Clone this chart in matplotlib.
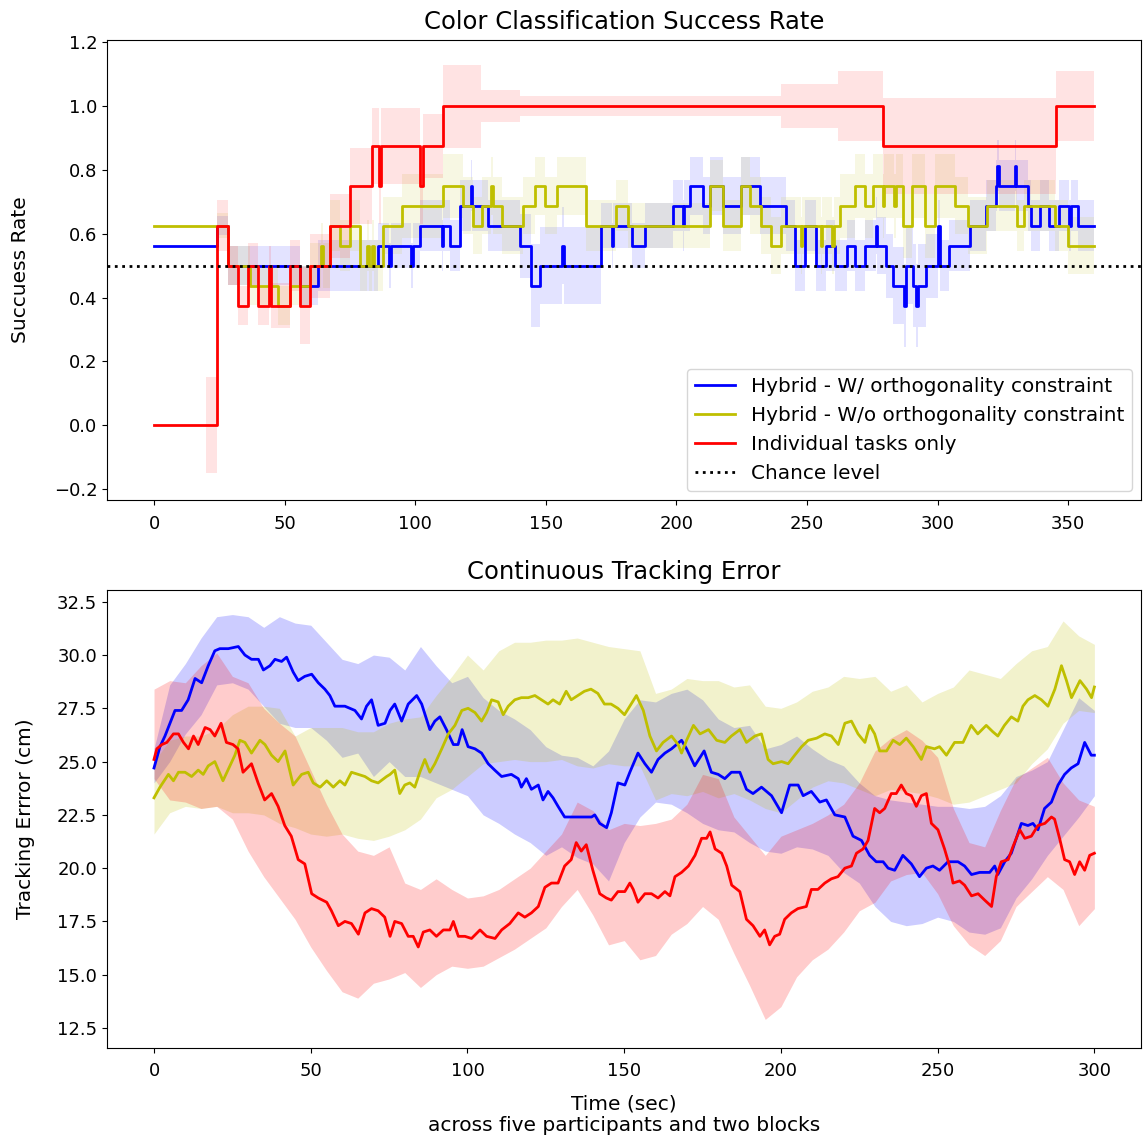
import numpy as np
import matplotlib
matplotlib.use("Agg")
import matplotlib.pyplot as plt

# ---------------- Top panel: Color classification success rate (step series) ----------------
red_t = [0, 20.0, 24.2, 28.2, 32.0, 35.8, 39.7, 44.0, 44.8, 52.0, 55.9, 59.7, 67.3, 75.0, 83.3,
         86.0, 87.0, 101.8, 102.8, 110.6, 125.0, 140.0, 240.0, 262.0, 279.0, 345.3, 360]
red_v = [0, 0, 0.625, 0.5, 0.375, 0.5, 0.375, 0.5, 0.375, 0.5, 0.375, 0.5, 0.625, 0.75, 0.875,
         0.75, 0.875, 0.75, 0.875, 1.0, 1.0, 1.0, 1.0, 1.0, 0.875, 1.0, 1.0]
red_hw = [0, 0.15, 0.08, 0.06, 0.06, 0.07, 0.06, 0.06, 0.07, 0.08, 0.12, 0.1, 0.1, 0.12, 0.12,
          0.12, 0.12, 0.12, 0.1, 0.13, 0.05, 0.03, 0.07, 0.11, 0.15, 0.11, 0.11]

blue_t = [0, 24.2, 28.2, 55.9, 62.9, 85.8, 90.0, 90.7, 98.3, 99.0, 101.8, 110.1, 110.8, 113.3,
          117.1, 121.3, 121.9, 128.0, 140.1, 144.5, 147.7, 156.2, 156.8, 171.3, 175.2, 175.8,
          182.8, 187.9, 198.7, 202.4, 203.0, 205.1, 210.2, 212.8, 217.9, 224.9, 231.9, 242.1,
          245.3, 249.1, 253.6, 257.4, 260.6, 265.2, 268.3, 272.2, 276.3, 276.9, 280.4, 283.0,
          287.0, 288.0, 290.6, 291.6, 292.4, 295.6, 300.2, 300.8, 304.5, 312.2, 318.5, 322.4,
          322.9, 323.5, 329.5, 330.1, 334.5, 335.8, 339.0, 342.8, 346.6, 350.4, 351.0, 353.6, 360]
blue_v = [0.5625, 0.625, 0.5, 0.4375, 0.5, 0.5625, 0.5, 0.5625, 0.5, 0.5625, 0.625, 0.5625, 0.625,
          0.5625, 0.6875, 0.75, 0.6875, 0.625, 0.5625, 0.4375, 0.5, 0.5625, 0.5, 0.625, 0.5625,
          0.625, 0.5625, 0.625, 0.6875, 0.625, 0.6875, 0.75, 0.6875, 0.75, 0.6875, 0.75, 0.6875,
          0.625, 0.5, 0.625, 0.5, 0.5625, 0.5, 0.5625, 0.5, 0.5625, 0.625, 0.5625, 0.5, 0.4375,
          0.375, 0.5, 0.4375, 0.375, 0.4375, 0.5, 0.625, 0.5, 0.5625, 0.625, 0.6875, 0.75,
          0.8125, 0.75, 0.8125, 0.75, 0.6875, 0.625, 0.6875, 0.625, 0.6875, 0.625, 0.6875, 0.625, 0.625]
blue_hw = [0, 0.03, 0.06, 0.06, 0.08, 0.07, 0.07, 0.07, 0.07, 0.07, 0.08, 0.08, 0.08, 0.08,
           0.08, 0.08, 0.08, 0.08, 0.1, 0.13, 0.12, 0.12, 0.12, 0.07, 0.07, 0.07,
           0.07, 0.07, 0.08, 0.08, 0.08, 0.09, 0.09, 0.09, 0.09, 0.09, 0.09, 0.08,
           0.08, 0.08, 0.08, 0.08, 0.08, 0.08, 0.08, 0.08, 0.09, 0.09, 0.1, 0.12,
           0.13, 0.12, 0.13, 0.13, 0.13, 0.1, 0.08, 0.08, 0.08, 0.08, 0.08, 0.08,
           0.08, 0.08, 0.08, 0.08, 0.08, 0.08, 0.08, 0.08, 0.08, 0.08, 0.08, 0.08, 0.08]

yel_t = [0, 24.2, 28.2, 36.7, 47.6, 52.0, 59.7, 64.1, 64.8, 67.3, 71.2, 75.0, 78.8, 81.7, 82.3,
         83.6, 84.2, 87.7, 94.8, 110.7, 118.3, 122.2, 125.4, 129.2, 129.8, 133.1, 141.3, 145.8,
         149.6, 154.1, 165.5, 177.0, 181.5, 212.7, 217.8, 224.8, 228.0, 232.5, 236.3, 240.2,
         247.5, 248.1, 255.2, 255.8, 259.6, 260.4, 262.5, 268.3, 272.2, 275.3, 278.9, 279.5,
         283.3, 283.9, 286.8, 290.0, 295.2, 299.0, 306.7, 311.8, 318.8, 330.3, 332.9, 345.0, 350.0, 360]
yel_v = [0.625, 0.625, 0.5, 0.4375, 0.375, 0.4375, 0.5, 0.5625, 0.5, 0.625, 0.5625, 0.625, 0.5,
         0.5625, 0.5, 0.5625, 0.5, 0.625, 0.6875, 0.75, 0.6875, 0.625, 0.6875, 0.75, 0.6875,
         0.625, 0.6875, 0.75, 0.6875, 0.75, 0.625, 0.6875, 0.625, 0.75, 0.625, 0.75, 0.6875,
         0.625, 0.5625, 0.625, 0.5625, 0.625, 0.5625, 0.625, 0.5625, 0.625, 0.6875, 0.75,
         0.6875, 0.75, 0.6875, 0.75, 0.6875, 0.75, 0.625, 0.75, 0.625, 0.75, 0.6875, 0.625,
         0.6875, 0.625, 0.6875, 0.625, 0.5625, 0.5625]
yel_hw = [0, 0.04, 0.06, 0.06, 0.06, 0.06, 0.07, 0.07, 0.07, 0.08, 0.08, 0.08, 0.08, 0.08, 0.08,
          0.08, 0.08, 0.09, 0.1, 0.1, 0.09, 0.09, 0.09, 0.09, 0.09, 0.09, 0.09, 0.09,
          0.09, 0.09, 0.08, 0.08, 0.07, 0.08, 0.08, 0.09, 0.09, 0.09, 0.09, 0.09,
          0.09, 0.09, 0.09, 0.09, 0.09, 0.09, 0.1, 0.1, 0.1, 0.1, 0.1, 0.1,
          0.1, 0.1, 0.1, 0.1, 0.1, 0.1, 0.09, 0.09, 0.08, 0.08, 0.08, 0.08, 0.09, 0.09]

chance_level = 0.5

# ---------------- Bottom panel: Continuous tracking error ----------------
blue_bt = [0, 1.9, 3.5, 5.1, 6.7, 8.8, 10.9, 13.1, 15.2, 17.3, 19.4, 21.0, 23.7, 26.9, 29.0, 31.1,
           33.3, 34.9, 37.0, 38.6, 40.7, 42.3, 44.4, 46.0, 48.1, 50.3, 52.4, 54.5, 56.1, 57.7, 60.9,
           64.1, 66.2, 67.8, 69.4, 71.5, 73.7, 75.3, 76.8, 79.0, 81.1, 83.8, 85.4, 88.0, 89.6, 91.2,
           93.3, 95.5, 97.0, 98.3, 100.2, 102.4, 104.5, 106.6, 108.7, 110.9, 114.0, 116.2, 117.2,
           118.8, 120.4, 122.6, 124.1, 125.7, 127.3, 128.9, 131.0, 135.2, 137.5, 139.6, 140.6, 142.2,
           144.4, 145.9, 148.0, 150.2, 151.8, 154.4, 156.6, 158.7, 160.8, 163.0, 165.1, 168.3, 169.9,
           172.5, 175.5, 177.8, 180.0, 182.1, 184.2, 186.9, 189.0, 191.1, 193.8, 197.0, 200.2, 202.8,
           205.5, 207.1, 209.7, 212.4, 214.5, 217.2, 220.4, 223.0, 225.7, 228.3, 230.4, 232.6, 234.2,
           236.3, 238.9, 241.6, 244.2, 246.4, 248.5, 250.6, 253.3, 256.5, 258.6, 260.8, 263.4, 266.6,
           268.2, 269.2, 271.4, 273.5, 275.1, 276.7, 278.8, 280.4, 282.0, 284.1, 286.3, 288.4, 290.5,
           292.6, 294.8, 296.9, 299.0, 300.0]
blue_bv = [24.7, 25.7, 26.2, 26.8, 27.4, 27.4, 27.9, 28.9, 28.7, 29.5, 30.2, 30.3, 30.3, 30.4, 30.0, 29.8,
           29.8, 29.3, 29.5, 29.8, 29.7, 29.9, 29.2, 28.8, 29.0, 29.1, 28.7, 28.4, 28.1, 27.6, 27.6,
           27.4, 27.0, 27.6, 27.9, 26.7, 26.8, 27.4, 27.7, 26.9, 27.7, 28.1, 27.7, 26.5, 26.9, 27.1,
           26.5, 25.8, 25.8, 26.5, 25.7, 25.6, 25.4, 24.9, 24.6, 24.3, 24.4, 24.2, 23.8,
           24.2, 23.7, 23.9, 23.2, 23.6, 23.3, 22.9, 22.4, 22.4, 22.4, 22.4, 22.5, 22.1,
           21.9, 22.6, 24.0, 23.9, 24.5, 25.4, 24.9, 24.5, 25.1, 25.4, 25.6, 26.0, 25.6,
           24.8, 25.5, 24.5, 24.4, 24.2, 24.5, 24.5, 23.7, 23.5, 23.8, 23.4, 22.6, 23.9,
           23.9, 23.4, 23.6, 23.1, 23.2, 22.5, 22.4, 21.5, 21.3, 20.6, 20.3, 20.3, 20.0,
           19.9, 20.6, 20.2, 19.6, 20.0, 20.1, 19.9, 20.3, 20.3, 20.1, 19.7, 19.8, 19.8,
           20.1, 19.7, 20.3, 20.7, 21.4, 22.1, 22.0, 22.1, 21.8, 22.8, 23.1, 23.9, 24.4,
           24.7, 24.9, 25.9, 25.3, 25.3]

yel_bt = [0, 1.9, 4.6, 6.2, 7.8, 9.9, 12.0, 14.1, 15.7, 17.3, 19.4, 22.0, 24.2, 25.8, 27.4, 29.0,
          31.1, 33.8, 35.4, 37.5, 39.6, 41.8, 44.4, 47.1, 49.2, 50.8, 53.0, 55.1, 57.2, 59.3, 60.9,
          63.0, 65.2, 67.3, 69.4, 71.5, 74.2, 75.3, 76.8, 78.4, 80.0, 81.6, 83.2, 84.8, 86.4, 88.0,
          89.6, 91.8, 93.9, 96.0, 98.2, 100.2, 102.4, 104.5, 106.1, 107.7, 109.8, 111.4, 113.0,
          115.1, 117.2, 119.4, 121.5, 123.6, 125.7, 127.3, 129.4, 131.5, 133.1, 135.2, 137.3,
          139.4, 141.6, 143.7, 145.8, 148.0, 150.1, 151.8, 153.9, 156.1, 158.2, 160.3, 162.4,
          165.1, 167.2, 168.3, 169.9, 172.1, 174.2, 176.9, 179.5, 182.1, 184.2, 186.9, 189.0,
          191.7, 193.8, 195.9, 197.5, 200.2, 202.3, 204.4, 206.6, 208.7, 211.4, 214.0, 216.1,
          218.3, 220.4, 222.5, 224.6, 226.8, 228.3, 229.9, 231.5, 233.7, 235.8, 237.9, 240.0,
          242.2, 244.8, 246.4, 249.0, 250.6, 252.8, 255.4, 258.1, 260.7, 262.8, 265.5, 267.6,
          269.2, 271.3, 273.5, 275.6, 277.2, 278.8, 281.0, 283.1, 285.2, 287.4, 289.5, 291.1,
          292.7, 295.4, 297.5, 299.1, 300.0]
yel_bv = [23.3, 23.8, 24.4, 24.1, 24.5, 24.5, 24.3, 24.6, 24.4, 24.8, 25.0, 24.1, 24.8, 25.3, 26.0, 25.9,
          25.4, 26.0, 25.8, 25.3, 25.0, 25.5, 23.9, 24.4, 24.5, 24.0, 23.8, 24.1, 23.8, 24.1, 23.9,
          24.5, 24.4, 24.3, 24.1, 24.0, 24.3, 24.4, 24.6, 23.5, 23.9, 24.0, 23.8, 24.5, 25.1, 24.5,
          24.9, 25.6, 26.3, 26.7, 27.4, 27.5, 27.3, 26.9, 27.3, 27.9, 27.8, 27.2, 27.6,
          27.9, 28.0, 28.0, 28.1, 27.9, 27.7, 27.9, 27.7, 28.3, 27.9, 28.1, 28.3,
          28.4, 28.2, 27.7, 27.7, 27.5, 27.2, 27.6, 28.1, 27.4, 26.2, 25.5, 25.9,
          26.2, 25.8, 25.4, 26.0, 26.7, 26.3, 26.5, 26.0, 25.9, 26.2, 26.5, 25.9,
          26.2, 26.3, 25.1, 24.9, 25.0, 24.9, 25.3, 25.7, 26.0, 26.1, 26.3, 26.2,
          25.8, 26.8, 26.9, 26.3, 25.9, 26.7, 26.3, 25.5, 25.5, 26.0, 25.8, 26.1,
          25.7, 25.1, 25.7, 25.6, 25.7, 25.3, 25.9, 25.9, 26.7, 26.3, 26.7, 26.4,
          26.2, 26.7, 27.1, 26.9, 27.6, 27.9, 28.1, 27.9, 27.6, 28.4, 29.5, 28.8,
          28.0, 28.8, 28.4, 28.0, 28.5]

red_bt = [0, 0.9, 2.5, 4.1, 6.2, 7.8, 9.4, 11.0, 12.6, 14.1, 16.3, 17.9, 19.4, 21.4, 23.1, 25.2,
          26.8, 28.4, 31.1, 33.2, 35.3, 37.5, 39.6, 41.7, 43.8, 46.0, 48.1, 50.3, 52.4, 55.1, 56.6,
          58.8, 60.9, 63.0, 65.2, 67.3, 69.4, 71.5, 73.6, 75.3, 76.8, 79.0, 81.1, 82.7, 84.3, 85.9,
          88.0, 90.1, 92.3, 94.4, 95.5, 97.1, 99.2, 101.3, 104.0, 106.1, 108.8, 110.9, 113.5,
          116.2, 118.3, 120.4, 122.6, 124.7, 126.8, 128.9, 131.0, 133.1, 134.7, 136.3, 137.9,
          140.0, 142.2, 144.3, 145.9, 148.0, 150.2, 151.8, 152.9, 154.4, 156.6, 158.7, 160.8,
          163.0, 164.6, 166.2, 168.3, 170.5, 172.6, 174.7, 176.3, 177.4, 179.0, 181.1, 182.7,
          184.3, 186.9, 189.0, 191.1, 193.3, 194.8, 196.4, 198.0, 199.6, 201.2, 203.3, 205.4,
          208.1, 209.7, 211.8, 214.0, 216.1, 218.2, 220.4, 222.5, 224.1, 226.2, 227.8, 229.9,
          231.5, 233.1, 235.2, 236.8, 238.4, 240.0, 241.6, 243.2, 244.8, 246.4, 248.0, 250.1,
          252.2, 253.8, 254.9, 257.0, 258.6, 260.8, 262.9, 265.0, 267.2, 268.7, 270.3, 272.5,
          274.0, 276.2, 277.8, 279.9, 282.0, 284.2, 286.3, 287.3, 288.9, 290.5, 292.1, 293.7,
          295.3, 296.9, 298.5, 300.0]
red_bv = [25.1, 25.6, 25.8, 25.9, 26.3, 26.3, 25.9, 25.6, 26.2, 25.8, 26.6, 26.5, 26.2, 26.8, 25.9, 25.8,
          25.6, 24.5, 24.9, 24.0, 23.2, 23.5, 22.9, 22.0, 21.5, 20.4, 20.2, 18.8, 18.6, 18.4, 18.0,
          17.3, 17.5, 17.4, 16.9, 17.9, 18.1, 18.0, 17.7, 16.8, 17.5, 17.4, 16.8, 16.8, 16.3, 17.0,
          17.1, 16.8, 17.1, 17.1, 17.5, 16.8, 16.8, 16.7, 17.1, 16.8, 16.7, 17.1, 17.4,
          17.9, 17.7, 17.9, 18.2, 19.1, 19.3, 19.3, 20.1, 20.4, 21.2, 20.8, 21.1,
          19.9, 18.8, 18.6, 18.5, 18.9, 18.9, 19.3, 19.0, 18.4, 18.8, 18.8, 18.6,
          18.9, 18.7, 19.6, 19.8, 20.1, 20.6, 21.4, 21.4, 21.7, 20.9, 20.7, 20.1,
          19.2, 18.9, 17.6, 17.3, 16.8, 17.1, 16.4, 16.8, 16.9, 17.6, 17.9, 18.1,
          18.2, 19.0, 19.0, 19.3, 19.5, 19.6, 20.0, 20.1, 20.7, 20.9, 21.3, 22.8,
          22.6, 22.8, 23.5, 23.5, 23.9, 23.5, 23.4, 22.9, 23.4, 23.5, 22.1, 21.8,
          20.9, 20.1, 19.3, 19.4, 19.2, 18.7, 18.8, 18.5, 18.2, 19.6, 20.3, 20.4,
          21.0, 21.8, 21.4, 21.5, 22.0, 22.1, 22.4, 22.3, 21.4, 20.4, 20.3, 19.7,
          20.3, 19.9, 20.6, 20.7]

band_t = [0, 5, 10, 15, 20, 25, 30, 35, 40, 45, 50, 55, 60, 65, 70, 75, 80, 85, 90, 95, 100,
          105, 110, 115, 120, 125, 130, 135, 140, 145, 150, 155, 160, 165, 170, 175, 180, 185,
          190, 195, 200, 205, 210, 215, 220, 225, 230, 235, 240, 245, 250, 255, 260, 265, 270,
          275, 280, 285, 290, 295, 300]
blue_lo = [24.0, 25.0, 26.3, 27.2, 28.6, 28.7, 28.4, 27.6, 26.8, 26.6, 26.6, 26.0, 25.2, 25.4, 24.3,
           25.0, 24.3, 24.3, 24.0, 23.7, 23.4, 22.5, 22.1, 21.6, 21.2, 20.6, 21.0, 20.5, 20.2, 19.4,
           21.2, 22.4, 23.1, 23.0, 22.6, 22.1, 21.8, 21.7, 21.2, 20.8, 20.7, 21.0, 20.9, 20.6, 19.8,
           19.3, 18.2, 17.5, 17.3, 17.4, 17.7, 17.5, 17.0, 16.9, 17.2, 18.6, 19.5, 20.6, 21.5, 22.4, 23.4]
blue_hi = [25.6, 28.6, 29.6, 30.8, 31.8, 31.9, 31.8, 31.3, 31.8, 31.5, 31.4, 30.6, 29.8, 29.6, 30.0,
           29.9, 29.3, 30.4, 29.5, 28.7, 29.0, 28.0, 27.4, 27.0, 26.5, 25.7, 25.3, 25.2, 24.8, 25.5,
           27.0, 27.9, 27.8, 28.2, 28.4, 27.9, 27.0, 26.6, 26.7, 25.6, 25.8, 26.2, 25.6, 25.1, 24.8,
           24.0, 23.4, 23.2, 23.1, 23.0, 22.9, 22.9, 22.8, 22.9, 23.4, 24.3, 24.6, 25.0, 26.5, 28.0, 27.4]
yel_lo = [21.6, 22.6, 22.9, 22.8, 22.9, 22.6, 22.6, 22.5, 22.1, 21.9, 21.6, 21.5, 21.6, 21.4, 21.3,
          21.5, 21.8, 22.3, 23.3, 23.7, 24.3, 24.9, 25.0, 25.1, 25.0, 25.0, 25.1, 24.8, 24.7, 24.9,
          24.8, 24.8, 23.2, 23.5, 23.4, 23.6, 23.3, 23.5, 23.2, 22.8, 22.6, 23.2, 23.8, 24.1, 24.0,
          23.7, 23.4, 23.7, 23.6, 23.5, 23.3, 23.0, 23.1, 23.4, 23.7, 24.0, 24.9, 25.6, 26.8, 27.4, 27.3]
yel_hi = [25.0, 26.0, 26.2, 26.2, 26.5, 27.2, 27.6, 27.6, 27.5, 26.2, 26.6, 26.6, 26.6, 26.4, 26.4,
          26.8, 27.0, 27.1, 28.1, 29.0, 30.0, 29.3, 30.2, 30.6, 30.6, 30.7, 30.7, 30.8, 30.6, 30.4,
          30.3, 30.2, 28.2, 28.4, 28.9, 28.8, 28.8, 28.5, 28.6, 27.6, 27.5, 27.8, 28.3, 28.5, 29.0,
          28.9, 29.0, 28.3, 28.6, 27.8, 28.2, 28.5, 29.3, 29.1, 28.9, 29.6, 30.2, 30.4, 31.6, 30.9, 30.5]
red_lo = [24.2, 23.2, 23.1, 22.8, 22.9, 22.3, 20.8, 19.6, 18.6, 17.6, 16.3, 15.2, 14.2, 13.9, 14.6,
          14.8, 15.1, 14.4, 15.0, 15.4, 15.3, 15.4, 15.8, 16.2, 16.7, 17.2, 18.2, 19.0, 17.8, 16.4,
          16.6, 15.7, 15.9, 16.9, 17.4, 18.2, 17.6, 16.0, 14.5, 12.9, 13.5, 14.9, 15.7, 16.2, 17.0,
          18.0, 18.4, 19.4, 19.7, 19.8, 18.8, 17.3, 16.4, 15.9, 16.6, 18.2, 18.9, 19.6, 19.0, 17.3, 18.1]
red_hi = [28.4, 28.8, 28.7, 29.5, 30.1, 29.0, 28.7, 27.5, 26.8, 26.2, 24.6, 23.0, 21.6, 20.8, 20.6,
          21.0, 19.3, 19.0, 19.5, 19.0, 18.6, 18.7, 19.0, 19.5, 20.0, 20.8, 21.6, 23.1, 22.7, 21.8,
          22.1, 22.0, 22.1, 22.3, 23.0, 24.4, 24.2, 22.4, 21.5, 20.6, 21.5, 21.8, 22.1, 22.5, 23.0,
          24.0, 25.5, 26.1, 26.5, 26.0, 25.2, 22.8, 21.2, 21.0, 22.7, 24.2, 24.7, 25.2, 24.0, 23.2, 22.9]

labels = ["Hybrid - W/ orthogonality constraint",
          "Hybrid - W/o orthogonality constraint",
          "Individual tasks only",
          "Chance level"]

plt.rcParams["font.family"] = ["DejaVu Sans"]
plt.rcParams["font.size"] = 13
plt.rcParams["xtick.major.pad"] = 7

fig = plt.figure(figsize=(11.43, 11.42), dpi=100)
ax1 = fig.add_axes([0.0936, 0.562, 0.905, 0.403])
ax2 = fig.add_axes([0.0936, 0.0825, 0.905, 0.401])

# top
for t, v, hw, c, lab in [(blue_t, blue_v, blue_hw, "b", labels[0]),
                         (yel_t, yel_v, yel_hw, "y", labels[1]),
                         (red_t, red_v, red_hw, "r", labels[2])]:
    t = np.asarray(t); v = np.asarray(v); hw = np.asarray(hw)
    ax1.fill_between(t, v - hw, v + hw, step="post", color=c, alpha=0.11, linewidth=0)
    ax1.plot(t, v, drawstyle="steps-post", color=c, lw=2, label=lab)
ax1.axhline(chance_level, color="k", ls=":", lw=2, label=labels[3])
ax1.set_xlim(-18, 378)
ax1.set_ylim(-0.235, 1.207)
ax1.set_yticks(np.arange(-0.2, 1.21, 0.2))
ax1.set_xticks(np.arange(0, 351, 50))
ax1.set_title("Color Classification Success Rate", fontsize=17.5, pad=8)
ax1.set_ylabel("Succuess Rate", fontsize=14.5)
ax1.yaxis.set_label_coords(-0.0745, 0.5)
ax1.legend(loc="lower right", fontsize=14.4, borderaxespad=0.45)

# bottom
for bt, bv, lo, hi, c in [(blue_bt, blue_bv, blue_lo, blue_hi, "b"),
                          (yel_bt, yel_bv, yel_lo, yel_hi, "y"),
                          (red_bt, red_bv, red_lo, red_hi, "r")]:
    ax2.fill_between(band_t, lo, hi, color=c, alpha=0.2, linewidth=0)
    ax2.plot(bt, bv, color=c, lw=2)
ax2.set_xlim(-15, 315)
ax2.set_ylim(11.57, 33.06)
ax2.set_yticks(np.arange(12.5, 32.6, 2.5))
ax2.set_xticks(np.arange(0, 301, 50))
ax2.set_title("Continuous Tracking Error", fontsize=17.5, pad=8)
ax2.set_ylabel("Tracking Errror (cm)", fontsize=14.5)
ax2.yaxis.set_label_coords(-0.0696, 0.5)
ax2.set_xlabel("Time (sec)\nacross five participants and two blocks", fontsize=14.5,
               linespacing=1.15, labelpad=10)

fig.savefig("out.png", dpi=100)
